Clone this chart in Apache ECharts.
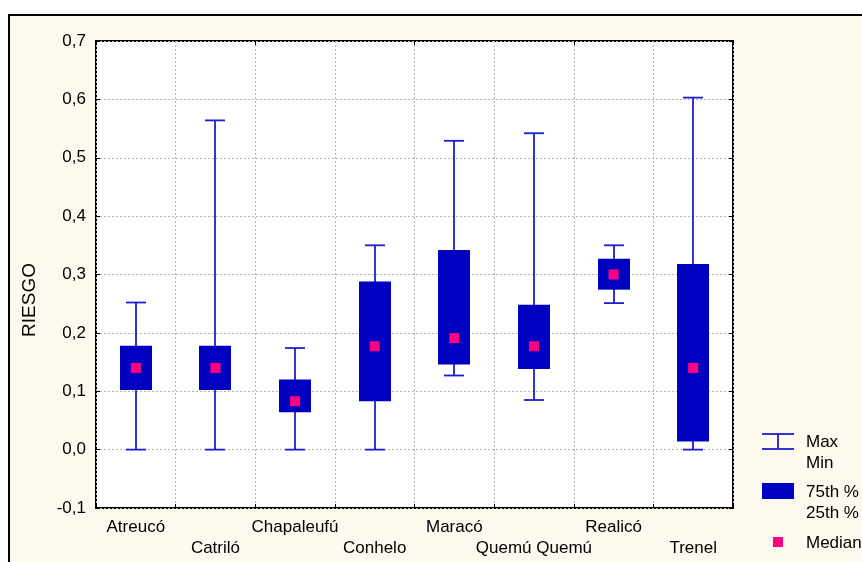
<!DOCTYPE html>
<html>
<head>
<meta charset="utf-8">
<script src="https://cdn.jsdelivr.net/npm/echarts@6/dist/echarts.min.js"></script>
<style>
html,body{margin:0;padding:0;background:#fff;}
#c{width:862px;height:562px;}
</style>
</head>
<body>
<div id="c"></div>
<script>
// Data
const categories = ['Atreucó','Catriló','Chapaleufú','Conhelo','Maracó','Quemú Quemú','Realicó','Trenel'];
const minVals    = [0.000, 0.000, 0.000, 0.000, 0.127, 0.085, 0.251, 0.000];
const q1Vals     = [0.102, 0.102, 0.064, 0.083, 0.146, 0.138, 0.274, 0.014];
const medianVals = [0.140, 0.140, 0.083, 0.177, 0.191, 0.177, 0.300, 0.140];
const q3Vals     = [0.178, 0.178, 0.120, 0.288, 0.342, 0.248, 0.327, 0.318];
const maxVals    = [0.252, 0.564, 0.174, 0.350, 0.529, 0.542, 0.350, 0.603];
const yTicks = { min: -0.1, max: 0.7, interval: 0.1 };
const legendLabels = ['Max', 'Min', '75th %', '25th %', 'Median'];
const yName = 'RIESGO';

const FONT = "'Liberation Sans', Arial, Helvetica, sans-serif";
const FS = 17;
const BOX = '#0000C0';
const WHISK = '#1E1ED0';
const MED = '#FF0080';
const CREAM = '#FDF9EF';

const boxData = categories.map((c, i) => [i, minVals[i], q1Vals[i], medianVals[i], q3Vals[i], maxVals[i]]);
const medData = categories.map((c, i) => [i, medianVals[i]]);

const chart = echarts.init(document.getElementById('c'), null, { renderer: 'canvas' });
const fmt = v => (Math.round(v * 10) / 10).toFixed(1).replace('.', ',');

const option = {
  animation: false,
  backgroundColor: '#fff',
  textStyle: { fontFamily: FONT },
  graphic: [
    { type: 'rect', z: -10, shape: { x: 9, y: 15, width: 900, height: 600 },
      style: { fill: CREAM, stroke: '#000', lineWidth: 2 } },
    { type: 'text', x: 30, y: 300, rotation: Math.PI / 2,
      style: { text: yName, font: '19px ' + FONT, fill: '#000', align: 'center', verticalAlign: 'middle' } },
    // legend: whisker symbol
    { type: 'line', shape: { x1: 762, y1: 434, x2: 794, y2: 434 }, style: { stroke: WHISK, lineWidth: 1.8 } },
    { type: 'line', shape: { x1: 762, y1: 449, x2: 794, y2: 449 }, style: { stroke: WHISK, lineWidth: 1.8 } },
    { type: 'line', shape: { x1: 778, y1: 434, x2: 778, y2: 449 }, style: { stroke: WHISK, lineWidth: 1.8 } },
    { type: 'text', x: 806, y: 442, style: { text: legendLabels[0], font: FS + 'px ' + FONT, fill: '#000', verticalAlign: 'middle' } },
    { type: 'text', x: 806, y: 463, style: { text: legendLabels[1], font: FS + 'px ' + FONT, fill: '#000', verticalAlign: 'middle' } },
    { type: 'rect', shape: { x: 762, y: 483, width: 32, height: 16 }, style: { fill: BOX } },
    { type: 'text', x: 806, y: 492, style: { text: legendLabels[2], font: FS + 'px ' + FONT, fill: '#000', verticalAlign: 'middle' } },
    { type: 'text', x: 806, y: 513, style: { text: legendLabels[3], font: FS + 'px ' + FONT, fill: '#000', verticalAlign: 'middle' } },
    { type: 'rect', shape: { x: 773, y: 537, width: 10, height: 10 }, style: { fill: MED } },
    { type: 'text', x: 806, y: 543, style: { text: legendLabels[4], font: FS + 'px ' + FONT, fill: '#000', verticalAlign: 'middle' } }
  ],
  grid: {
    left: 96, right: 129, top: 41, bottom: 54,
    show: true, backgroundColor: '#fff', borderColor: '#000', borderWidth: 2, z: 0
  },
  xAxis: [
    {
      type: 'category', data: categories, boundaryGap: true, position: 'bottom',
      axisLine: { show: false, onZero: false },
      axisTick: { show: true, inside: true, length: 4, lineStyle: { color: '#000', width: 1 } },
      splitLine: { show: true, lineStyle: { color: '#b4b4b4', type: [2, 2], width: 1 } },
      axisLabel: {
        interval: 0, margin: 9, color: '#000', fontSize: FS, fontFamily: FONT, lineHeight: 21,
        formatter: (v, i) => (i % 2 ? '\n' + v : v)
      }
    },
    {
      type: 'category', data: categories, boundaryGap: true, position: 'top',
      axisLine: { show: false, onZero: false },
      axisTick: { show: true, inside: true, length: 4, lineStyle: { color: '#000' } },
      axisLabel: { show: false }, splitLine: { show: false }
    }
  ],
  yAxis: [
    {
      type: 'value', min: yTicks.min, max: yTicks.max, interval: yTicks.interval,
      axisLine: { show: false, onZero: false },
      axisTick: { show: true, inside: true, length: 4, lineStyle: { color: '#000' } },
      splitLine: { show: true, lineStyle: { color: '#b4b4b4', type: [2, 2], width: 1 } },
      axisLabel: { margin: 10, color: '#000', fontSize: FS, fontFamily: FONT, formatter: fmt }
    },
    {
      type: 'value', position: 'right', min: yTicks.min, max: yTicks.max, interval: yTicks.interval,
      axisLine: { show: false, onZero: false },
      axisTick: { show: true, inside: true, length: 4, lineStyle: { color: '#000' } },
      splitLine: { show: false }, axisLabel: { show: false }
    }
  ],
  series: [
    {
      type: 'custom', xAxisIndex: 0, yAxisIndex: 0, z: 5,
      data: boxData,
      encode: { x: 0, y: [1, 2, 3, 4, 5] },
      renderItem: function (params, api) {
        const i = api.value(0);
        const pMin = api.coord([i, api.value(1)]);
        const pQ1 = api.coord([i, api.value(2)]);
        const pQ3 = api.coord([i, api.value(4)]);
        const pMax = api.coord([i, api.value(5)]);
        const cx = Math.round(pMin[0]);
        const bw = 32, cw = 20;
        return {
          type: 'group',
          children: [
            { type: 'line', shape: { x1: cx, y1: pMax[1], x2: cx, y2: pMin[1] }, style: { stroke: WHISK, lineWidth: 1.8 } },
            { type: 'line', shape: { x1: cx - cw / 2, y1: pMax[1], x2: cx + cw / 2, y2: pMax[1] }, style: { stroke: WHISK, lineWidth: 1.8 } },
            { type: 'line', shape: { x1: cx - cw / 2, y1: pMin[1], x2: cx + cw / 2, y2: pMin[1] }, style: { stroke: WHISK, lineWidth: 1.8 } },
            { type: 'rect', shape: { x: cx - bw / 2, y: pQ3[1], width: bw, height: pQ1[1] - pQ3[1] }, style: { fill: BOX } }
          ]
        };
      }
    },
    {
      type: 'scatter', xAxisIndex: 0, yAxisIndex: 0, z: 6,
      data: medData, symbol: 'rect', symbolSize: [10, 10],
      itemStyle: { color: MED, opacity: 1 }
    }
  ]
};
chart.setOption(option);
</script>
</body>
</html>
